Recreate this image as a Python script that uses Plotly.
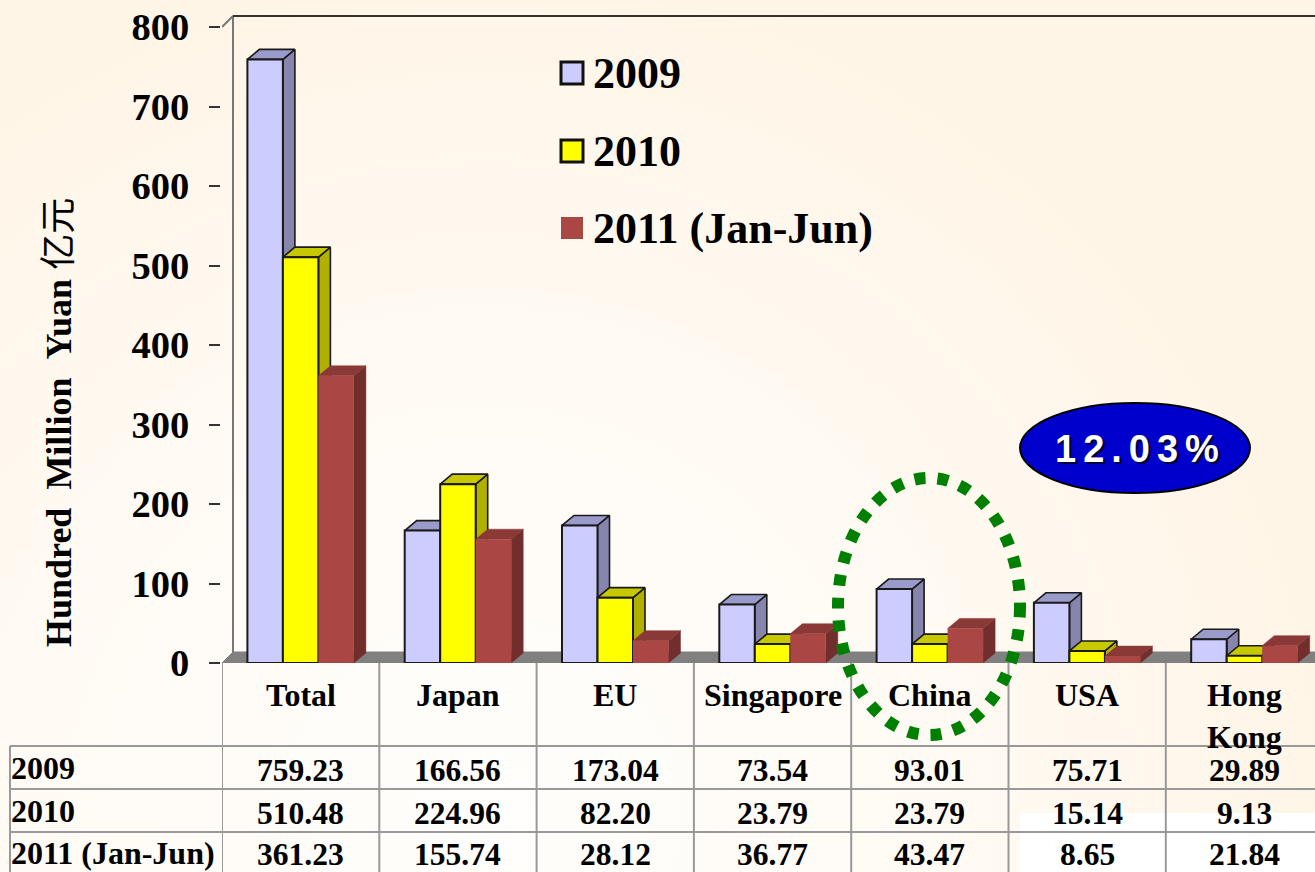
import base64
import plotly.graph_objects as go

W, H = 1315, 872

categories = ["Total", "Japan", "EU", "Singapore", "China", "USA", "Hong<br>Kong"]
series_names = ["2009", "2010", "2011 (Jan-Jun)"]
values_2009 = [759.23, 166.56, 173.04, 73.54, 93.01, 75.71, 29.89]
values_2010 = [510.48, 224.96, 82.20, 23.79, 23.79, 15.14, 9.13]
values_2011 = [361.23, 155.74, 28.12, 36.77, 43.47, 8.65, 21.84]
labels_2009 = ["759.23", "166.56", "173.04", "73.54", "93.01", "75.71", "29.89"]
labels_2010 = ["510.48", "224.96", "82.20", "23.79", "23.79", "15.14", "9.13"]
labels_2011 = ["361.23", "155.74", "28.12", "36.77", "43.47", "8.65", "21.84"]
y_ticks = [0, 100, 200, 300, 400, 500, 600, 700, 800]
all_values = [values_2009, values_2010, values_2011]
all_labels = [labels_2009, labels_2010, labels_2011]

# layout geometry (pixels)
X0, CAT_W = 222, 157.3
Y0, PX_PER_UNIT = 663, 0.795
BAR_W = 35.5 / CAT_W
DX_BAR, DY_BAR = 12 / CAT_W, 10 / PX_PER_UNIT
DX_WALL, DY_WALL = 11 / CAT_W, 11 / PX_PER_UNIT
x_range = [-0.5, -0.5 + (W - X0) / CAT_W]
y_range = [0, Y0 / PX_PER_UNIT]

SERIF = "Liberation Serif"
front = ["#CCCCFF", "#FFFF00", "#AA4643"]
side = ["#8585AE", "#B0B000", "#722E2D"]
top = ["#9A9ACB", "#C8C800", "#8A3937"]
edge = ["#1A1A1A", "#1A1A1A", None]


def px(x):
    return x / W


def py(y):
    return 1 - y / H


gradient = f"""<svg xmlns='http://www.w3.org/2000/svg' width='{W}' height='{H}'>
<defs><radialGradient id='g' gradientUnits='userSpaceOnUse' cx='480' cy='820' r='880'>
<stop offset='0' stop-color='#FFFEFC'/><stop offset='0.45' stop-color='#FFFBF5'/>
<stop offset='0.8' stop-color='#FFF7EC'/><stop offset='1' stop-color='#FFF5E6'/>
</radialGradient></defs><rect width='{W}' height='{H}' fill='url(#g)'/></svg>"""
bg_src = "data:image/svg+xml;base64," + base64.b64encode(gradient.encode()).decode()

fig = go.Figure()

# floor and back wall of the 3-D box
right_end = x_range[1]
fig.add_trace(go.Scatter(
    x=[-0.5, -0.5 + DX_WALL, right_end, right_end, -0.5],
    y=[0, DY_WALL, DY_WALL, 0, 0],
    fill="toself", fillcolor="#808080", mode="lines",
    line=dict(color="#808080", width=1), hoverinfo="skip", showlegend=False, zorder=0,
))
wall_top = 800 + DY_WALL
fig.add_trace(go.Scatter(
    x=[-0.5, -0.5 + DX_WALL, -0.5 + DX_WALL], y=[800, wall_top, DY_WALL],
    mode="lines", line=dict(color="#777777", width=2), hoverinfo="skip", showlegend=False, zorder=0,
))
fig.add_trace(go.Scatter(
    x=[-0.5 + DX_WALL, right_end], y=[wall_top, wall_top],
    mode="lines", line=dict(color="#333333", width=2), hoverinfo="skip", showlegend=False, zorder=0,
))

for k, vals in enumerate(all_values):
    offset = (k - 1.5) * BAR_W
    sx, sy, tx, ty = [], [], [], []
    for i, v in enumerate(vals):
        x0 = i + offset
        x1 = x0 + BAR_W
        sx += [x1, x1 + DX_BAR, x1 + DX_BAR, x1, x1, None]
        sy += [0, DY_BAR, v + DY_BAR, v, 0, None]
        tx += [x0, x0 + DX_BAR, x1 + DX_BAR, x1, x0, None]
        ty += [v, v + DY_BAR, v + DY_BAR, v, v, None]
    line = dict(color=edge[k] or side[k], width=1.6 if edge[k] else 0.5)
    fig.add_trace(go.Scatter(x=sx, y=sy, fill="toself", fillcolor=side[k], mode="lines",
                             line=line, hoverinfo="skip", showlegend=False, zorder=1 + 2 * k))
    line = dict(color=edge[k] or top[k], width=1.6 if edge[k] else 0.5)
    fig.add_trace(go.Scatter(x=tx, y=ty, fill="toself", fillcolor=top[k], mode="lines",
                             line=line, hoverinfo="skip", showlegend=False, zorder=1 + 2 * k))
    fig.add_trace(go.Bar(
        x=list(range(len(vals))), y=vals, name=series_names[k], width=BAR_W, offset=offset,
        marker=dict(color=front[k], line=dict(color=edge[k] or front[k], width=2 if edge[k] else 0)),
        showlegend=False, zorder=2 + 2 * k,
    ))

shapes = []
annotations = []
GRID = "#999999"

# white patch under the lower right of the table
shapes.append(dict(type="rect", xref="paper", yref="paper", x0=px(1020), x1=1, y0=py(813), y1=0,
                   fillcolor="white", line=dict(width=0), layer="below"))

# table lines
for i in range(len(categories) + 1):
    if i - 0.5 <= x_range[1]:
        shapes.append(dict(type="line", xref="x", yref="paper", x0=i - 0.5, x1=i - 0.5,
                           y0=py(Y0), y1=0, line=dict(color=GRID, width=2), layer="above"))
shapes.append(dict(type="line", xref="paper", yref="paper", x0=px(10), x1=px(10), y0=py(746), y1=0,
                   line=dict(color=GRID, width=2), layer="above"))
for ypix in [746, 789, 832]:
    shapes.append(dict(type="line", xref="paper", yref="paper", x0=px(10), x1=1, y0=py(ypix), y1=py(ypix),
                       line=dict(color=GRID, width=2), layer="above"))

# table text
for i, cat in enumerate(categories):
    annotations.append(dict(x=i, xref="x", xanchor="center", y=py(675), yref="paper", text=cat, showarrow=False,
                            yanchor="top", align="center",
                            font=dict(family=SERIF, size=32, color="black", weight="bold")))
row_y = [769, 812, 853.5]
for k, labels in enumerate(all_labels):
    annotations.append(dict(x=px(9), xref="paper", xanchor="left", y=py(row_y[k] - 1), yref="paper",
                            yanchor="middle", text=series_names[k], showarrow=False,
                            font=dict(family=SERIF, size=32, color="black", weight="bold")))
    for i, lab in enumerate(labels):
        annotations.append(dict(x=i, xref="x", xanchor="center", y=py(row_y[k] + 1), yref="paper", yanchor="middle",
                                text=lab, showarrow=False,
                                font=dict(family=SERIF, size=31.5, color="black", weight="bold")))

# legend
legend_y = [73, 151, 228]
for k, name in enumerate(series_names):
    shapes.append(dict(type="rect", xref="paper", yref="paper",
                       x0=px(561), x1=px(583), y0=py(legend_y[k] - 11), y1=py(legend_y[k] + 11),
                       fillcolor=front[k], line=dict(color="#111111", width=3) if edge[k] else dict(width=0),
                       layer="above"))
    annotations.append(dict(x=px(591), xref="paper", xanchor="left", y=py(legend_y[k]), yref="paper",
                            yanchor="middle", text=name, showarrow=False,
                            font=dict(family=SERIF, size=44, color="black", weight="bold")))

# blue oval
shapes.append(dict(type="circle", xref="paper", yref="paper", x0=px(1020), x1=px(1250), y0=py(403), y1=py(493),
                   fillcolor="#0000CC", line=dict(color="black", width=2), layer="above"))
annotations.append(dict(x=px(1140), xref="paper", xanchor="center", y=py(449), yref="paper", yanchor="middle",
                        showarrow=False,
                        text="<span style='letter-spacing:7px'>12.03%</span>",
                        font=dict(family="Liberation Sans", size=38, color="white", weight="bold",
                                  shadow="2px 2px 1px #000033")))

# green dotted oval round China
shapes.append(dict(type="circle", xref="paper", yref="paper", x0=px(838), x1=px(1020), y0=py(478), y1=py(735),
                   line=dict(color="#008000", width=12, dash="11px,12px"), layer="above"))

# y axis title
annotations.append(dict(
    x=px(55), xref="paper", xanchor="center", y=py(423), yref="paper", yanchor="middle",
    textangle=-90, showarrow=False,
    text="Hundred\u00a0\u00a0Million\u00a0\u00a0Yuan\u00a0"
         "<span style='font-family:\"Noto Sans CJK SC\";font-weight:normal'>\u4ebf\u5143</span>",
    font=dict(family=SERIF, size=36, color="black", weight="bold"),
))

fig.update_layout(
    width=W, height=H, margin=dict(l=0, r=0, t=0, b=0, autoexpand=False), autosize=False,
    barmode="overlay", showlegend=False,
    paper_bgcolor="rgba(0,0,0,0)", plot_bgcolor="rgba(0,0,0,0)",
    shapes=shapes, annotations=annotations,
    images=[dict(source=bg_src, xref="paper", yref="paper", x=0, y=1, sizex=1, sizey=1,
                 sizing="stretch", xanchor="left", yanchor="top", layer="below")],
    xaxis=dict(domain=[px(X0), 1], range=x_range, showgrid=False, zeroline=False, showticklabels=False,
               ticks="", showline=False, fixedrange=True),
    yaxis=dict(domain=[py(Y0), 1], range=y_range, tickvals=y_ticks, showgrid=False, zeroline=False,
               ticks="outside", ticklen=11, tickwidth=2, tickcolor="#333333",
               showline=True, linecolor="#777777", linewidth=2, ticklabelstandoff=12,
               tickfont=dict(family=SERIF, size=38.5, color="black", weight="bold"), fixedrange=True),
)

fig.write_html("out.html", config=dict(displayModeBar=False),
               post_script="document.body.style.margin='0';document.body.style.overflow='hidden';")
